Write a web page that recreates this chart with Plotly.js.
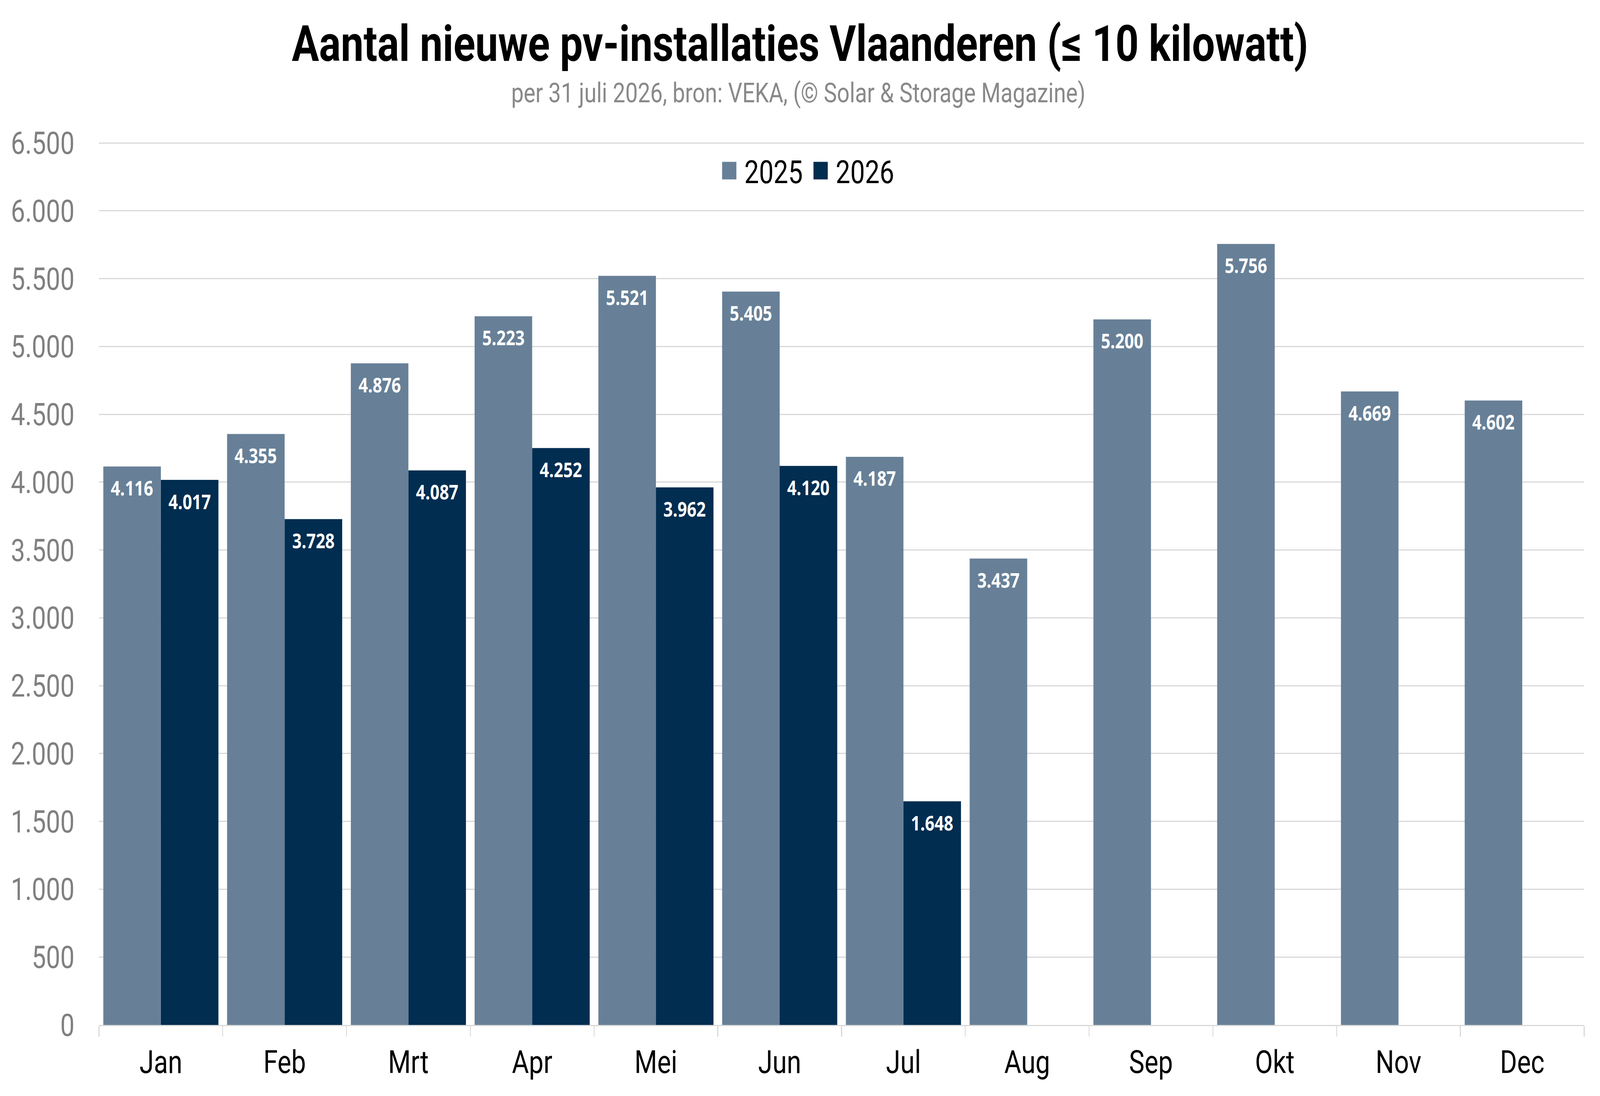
<!DOCTYPE html>
<html>
<head>
<meta charset="utf-8">
<script src="https://cdn.plot.ly/plotly-3.0.1.min.js"></script>
<style>
  html, body { margin: 0; padding: 0; background: #fff; overflow: hidden; }
  #chart { width: 5043px; height: 2807px; transform-origin: 0 0; }
</style>
</head>
<body>
<div id="chart"></div>
<script>
var months = ['Jan', 'Feb', 'Mrt', 'Apr', 'Mei', 'Jun', 'Jul', 'Aug', 'Sep', 'Okt', 'Nov', 'Dec'];
var y2025 = [4116, 4355, 4876, 5223, 5521, 5405, 4187, 3437, 5200, 5756, 4669, 4602];
var y2026 = [4017, 3728, 4087, 4252, 3962, 4120, 1648, null, null, null, null, null];
var yTicks = [0, 500, 1000, 1500, 2000, 2500, 3000, 3500, 4000, 4500, 5000, 5500, 6000, 6500];

// drawn for 5043 x 2807; squeezed to the real window if that is smaller
var BW = 5043, BH = 2807;
var sx = Math.min(1, window.innerWidth / BW), sy = Math.min(1, window.innerHeight / BH);
document.getElementById('chart').style.transform = 'scale(' + sx + ',' + sy + ')';

// y range runs a little past 6500 so the top grid line shows
var YMAX = 6512;
var L = 312, R = 50, B = 182;
var T = 366 - (2625 - 366) * (YMAX - 6500) / 6500;
function px2x(p) { return (p - L) / (BW - L - R); }
function px2y(p) { return (BH - B - p) / (BH - T - B); }

// half of one bar, in px (grouped bars, bargap 0.07)
var halfBar = (BW - L - R) / months.length * 0.93 / 4;

function dotted(v) {
  return String(v).replace(/\B(?=(\d{3})+(?!\d))/g, '.');
}

function barTrace(name, values, colour) {
  return {
    type: 'bar',
    name: name,
    x: months,
    y: values,
    marker: {color: colour},
    hoverinfo: 'skip'
  };
}

// white value labels just under the top of each bar
function valueLabels(values, shift) {
  var out = [];
  values.forEach(function (v, i) {
    if (v === null) return;
    out.push({
      x: months[i], y: v, xref: 'x', yref: 'y',
      text: dotted(v),
      showarrow: false,
      xshift: shift, yshift: -54,
      xanchor: 'center', yanchor: 'middle',
      font: {family: 'Open Sans, sans-serif', size: 52, color: '#ffffff', weight: 700}
    });
  });
  return out;
}

var data = [
  barTrace('2025', y2025, '#678097'),
  barTrace('2026', y2026, '#012d50')
];

var subtitle = {
  text: 'per 31 juli 2026, bron: VEKA, (© Solar & Storage Magazine)',
  xref: 'paper', yref: 'paper',
  x: px2x(2516), y: px2y(281),
  xanchor: 'center', yanchor: 'bottom',
  showarrow: false,
  font: {family: 'Roboto, sans-serif', size: 70, color: '#898989'}
};

var layout = {
  width: BW,
  height: BH,
  separators: ',.',
  paper_bgcolor: '#ffffff',
  plot_bgcolor: '#ffffff',
  font: {family: 'Roboto, sans-serif', color: '#000000'},
  title: {
    text: 'Aantal nieuwe pv-installaties Vlaanderen (≤ 10 kilowatt)',
    font: {family: 'Roboto, sans-serif', size: 128, weight: 700, color: '#000000'},
    x: 0.5,
    xanchor: 'center',
    xref: 'container',
    yref: 'container',
    y: 1 - 66 / BH,
    yanchor: 'top'
  },
  annotations: [subtitle].concat(valueLabels(y2025, -halfBar), valueLabels(y2026, halfBar)),
  margin: {l: L, r: R, t: T, b: B},
  barmode: 'group',
  bargap: 0.07,
  bargroupgap: 0,
  showlegend: true,
  legend: {
    orientation: 'h',
    x: px2x(2262),
    xanchor: 'left',
    y: px2y(437),
    yanchor: 'middle',
    entrywidth: 243,
    entrywidthmode: 'pixels',
    font: {family: 'Roboto, sans-serif', size: 82, color: '#000000'},
    bgcolor: 'rgba(0,0,0,0)'
  },
  xaxis: {
    type: 'category',
    showgrid: false,
    showline: true,
    linecolor: '#d9d9d9',
    linewidth: 3,
    ticks: 'outside',
    tickson: 'boundaries',
    ticklen: 27,
    tickwidth: 3,
    tickcolor: '#d9d9d9',
    tickfont: {family: 'Roboto, sans-serif', size: 82, color: '#000000'},
    ticklabelstandoff: 22
  },
  yaxis: {
    range: [0, YMAX],
    tickvals: yTicks,
    tickformat: ',d',
    showgrid: true,
    gridcolor: '#d9d9d9',
    gridwidth: 3,
    zeroline: false,
    showline: false,
    ticks: '',
    tickfont: {family: 'Roboto, sans-serif', size: 80, color: '#808080'},
    ticklabelstandoff: 76
  }
};

Plotly.newPlot('chart', data, layout, {staticPlot: true}).then(function () {
  // the original has 45px legend squares, Plotly draws 12px ones
  var k = 45 / 12;
  document.querySelectorAll('.legend .traces').forEach(function (g) {
    var right = 0;
    g.querySelectorAll('.legendpoints path').forEach(function (p) {
      var m = /translate\(\s*([-\d.]+)/.exec(p.getAttribute('transform') || '');
      var cx = m ? parseFloat(m[1]) : 0;
      var ncx = cx - 6 + 22.5;
      p.setAttribute('transform', 'translate(' + ncx + ',0) scale(' + k + ')');
      right = ncx + 22.5;
    });
    var t = g.querySelector('.legendtext');
    if (t) {
      var x0 = parseFloat(t.getAttribute('x')) || 40;
      t.setAttribute('transform', 'translate(' + (right + 25 - x0) + ',0)');
    }
  });
});
</script>
</body>
</html>
